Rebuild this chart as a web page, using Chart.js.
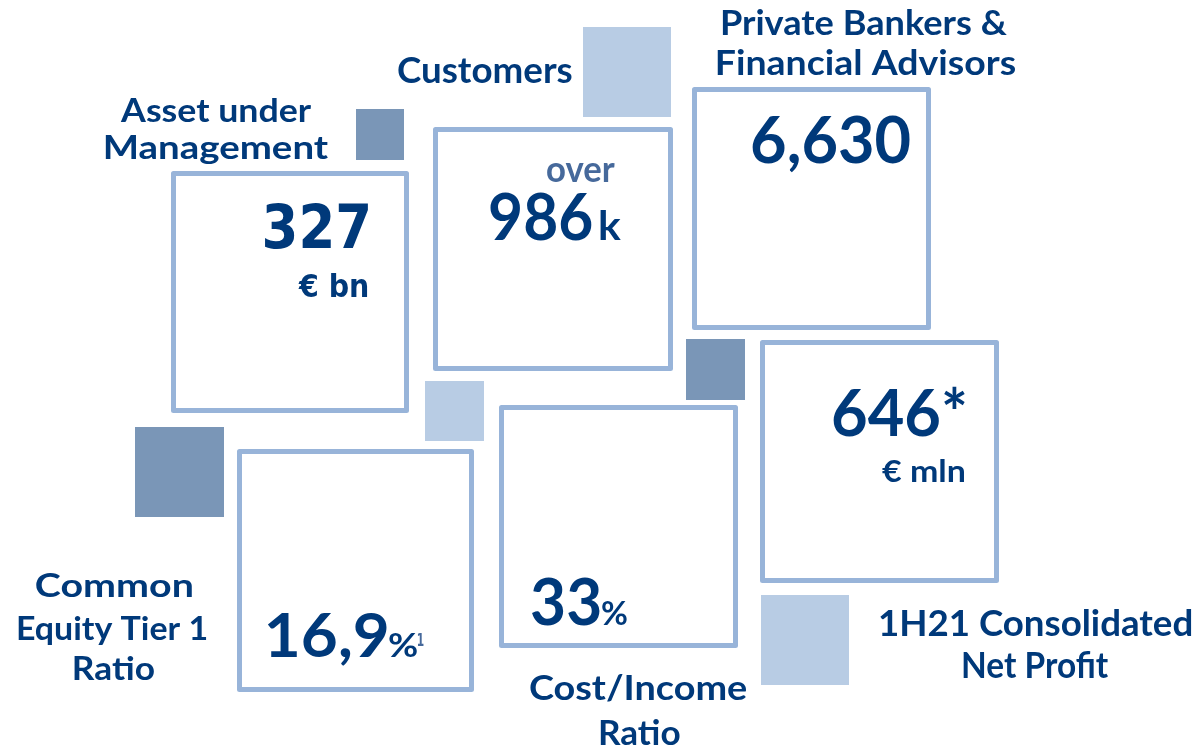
<!DOCTYPE html>
<html>
<head>
<meta charset="utf-8">
<title>Key figures</title>
<script src="https://cdn.jsdelivr.net/npm/chart.js@4.4.1/dist/chart.umd.min.js"></script>
<style>
  html, body { margin: 0; padding: 0; background: #fff; overflow: hidden; }
  canvas { display: block; }
</style>
</head>
<body>
<canvas id="kpiChart" width="1199" height="745"></canvas>
<script>
// KPI figures as printed on the slide
const kpiNames = [
  ['Asset under', 'Management'],
  ['Customers'],
  ['Private Bankers &', 'Financial Advisors'],
  ['1H21 Consolidated', 'Net Profit'],
  ['Cost/Income', 'Ratio'],
  ['Common', 'Equity Tier 1', 'Ratio']
];
const kpiValues = [327, 986, 6630, 646, 33, 16.9];
const kpiPrefixes = ['', 'over', '', '', '', ''];
const kpiUnits = ['€ bn', 'k', '', '€ mln', '%', '%'];
const kpiMarks = ['', '', '', '*', '', ''];      // inline after value
const kpiFootnotes = ['', '', '', '', '', '1'];   // superscript after unit

// layout (scale units = px of the 1199x745 canvas), ink boxes [left, top, right, baseline]
const tileBoxes = [
  [171, 171, 409, 413],
  [433, 127, 673, 371],
  [692, 87, 931, 330],
  [760, 340, 999, 583],
  [499, 405, 738, 648],
  [237, 449, 474, 692]
];
const nameInk = [
  [[120, 98, 312, 122], [105, 135, 329, 159]],
  [[398, 57, 572, 83]],
  [[722, 10, 1007, 35], [717, 50, 1015, 75]],
  [[880, 610, 1192, 636], [963, 652, 1109, 678]],
  [[530, 675, 747, 700], [600, 720, 680, 745]],
  [[36, 573, 192, 597], [18, 616, 207, 640], [74, 656, 154, 680]]
];
const valueInk = [
  [265, 202, 368, 248], [490, 193, 592, 240], [752, 115, 910, 163],
  [833, 388, 965, 436], [532, 578, 600, 625], [268, 612, 387, 657]
];
const unitInk = [
  [298, 273, 368, 297], [600, 210, 621, 240], null,
  [882, 460, 965, 482], [602, 602, 627, 625], [389, 633, 417, 657]
];
const prefixInk = [null, [547, 163, 615, 182], null, null, null, null];
const footnoteInk = [null, null, null, null, null, [418, 633, 424, 646]];
const decoSquares = [
  [356, 109, 404, 160, 'mid'],
  [686, 339, 745, 400, 'mid'],
  [135, 427, 224, 517, 'mid'],
  [583, 27, 671, 117, 'light'],
  [425, 381, 484, 441, 'light'],
  [761, 595, 849, 685, 'light']
];

const NAVY = '#00397a';
const SOFT_NAVY = '#46699b';
const BORDER = '#98b4d9';
const squareColors = { mid: '#7a96b7', light: '#b8cce4' };
const LABEL_FONT = 'Lato';
const NUMBER_FONT = 'Lato';
const TAHOMA_LIKE = 'DejaVu Sans';

function formatValue(v) {
  if (Number.isInteger(v)) return v.toLocaleString('en-US');
  return String(v).replace('.', ',');
}

// draws text so its ink fills the given box (left/top/right/baseline);
// refGlyph sets which glyph height maps to top..baseline (default: the text itself)
function drawInk(ctx, x, y, text, ink, family, color, refGlyph) {
  if (!ink || !text) return;
  const left = x.getPixelForValue(ink[0]);
  const top = y.getPixelForValue(ink[1]);
  const right = x.getPixelForValue(ink[2]);
  const base = y.getPixelForValue(ink[3]);
  ctx.save();
  ctx.font = 'bold 100px "' + family + '"';
  const m0 = ctx.measureText(refGlyph || text);
  const size = 100 * (base - top) / m0.actualBoundingBoxAscent;
  ctx.font = 'bold ' + size.toFixed(2) + 'px "' + family + '"';
  const m = ctx.measureText(text);
  const inkW = m.actualBoundingBoxLeft + m.actualBoundingBoxRight;
  const sx = (right - left) / inkW;
  ctx.translate(left + m.actualBoundingBoxLeft * sx, base);
  ctx.scale(sx, 1);
  ctx.fillStyle = color;
  ctx.textAlign = 'left';
  ctx.textBaseline = 'alphabetic';
  ctx.fillText(text, 0, 0);
  ctx.restore();
}

const kpiPlugin = {
  id: 'kpiTiles',
  afterDatasetsDraw(chart) {
    const { ctx, scales: { x, y } } = chart;

    // filled accent squares
    decoSquares.forEach(s => {
      const x0 = x.getPixelForValue(s[0]), y0 = y.getPixelForValue(s[1]);
      const x1 = x.getPixelForValue(s[2]), y1 = y.getPixelForValue(s[3]);
      ctx.fillStyle = squareColors[s[4]];
      ctx.fillRect(x0, y0, x1 - x0, y1 - y0);
    });

    // outlined tiles
    ctx.save();
    ctx.strokeStyle = BORDER;
    ctx.lineWidth = 5;
    ctx.lineJoin = 'round';
    tileBoxes.forEach(b => {
      const x0 = x.getPixelForValue(b[0]) + 2.5, y0 = y.getPixelForValue(b[1]) + 2.5;
      const x1 = x.getPixelForValue(b[2]) - 2.5, y1 = y.getPixelForValue(b[3]) - 2.5;
      ctx.strokeRect(x0, y0, x1 - x0, y1 - y0);
    });
    ctx.restore();

    // texts
    kpiNames.forEach((lines, i) => {
      lines.forEach((line, j) => drawInk(ctx, x, y, line, nameInk[i][j], LABEL_FONT, NAVY, 'H'));
      const fam = i === 0 ? TAHOMA_LIKE : NUMBER_FONT;
      drawInk(ctx, x, y, formatValue(kpiValues[i]) + kpiMarks[i], valueInk[i], fam, NAVY, '0');
      drawInk(ctx, x, y, kpiUnits[i], unitInk[i], fam, NAVY);
      drawInk(ctx, x, y, kpiPrefixes[i], prefixInk[i], LABEL_FONT, SOFT_NAVY, 'x');
      drawInk(ctx, x, y, kpiFootnotes[i], footnoteInk[i], 'DejaVu Sans', SOFT_NAVY, '1');
    });
  }
};

new Chart(document.getElementById('kpiChart'), {
  type: 'scatter',
  data: { datasets: [] },
  options: {
    responsive: false,
    animation: false,
    layout: { padding: 0 },
    plugins: { legend: { display: false }, tooltip: { enabled: false } },
    scales: {
      x: { type: 'linear', min: 0, max: 1199, display: false },
      y: { type: 'linear', min: 0, max: 745, reverse: true, display: false }
    }
  },
  plugins: [kpiPlugin]
});
</script>
</body>
</html>
